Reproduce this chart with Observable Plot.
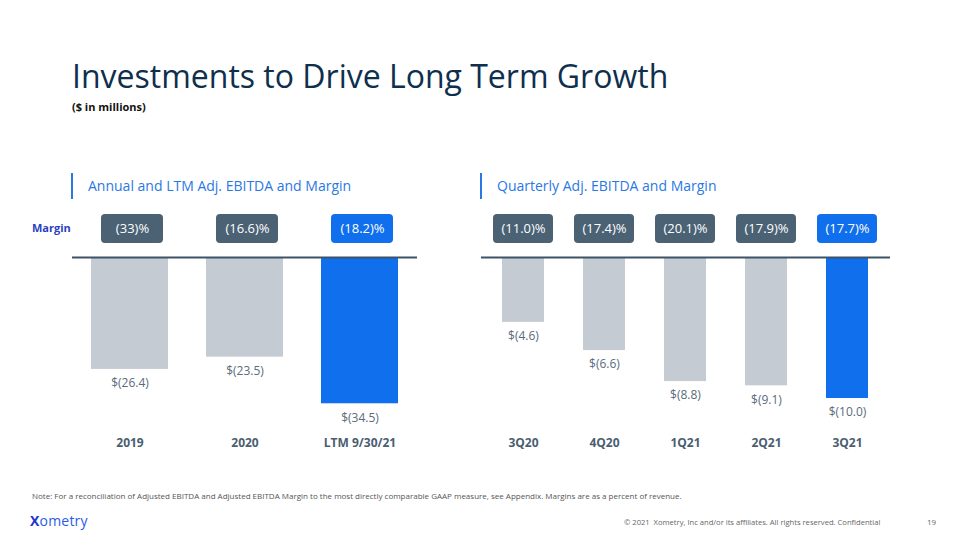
<!DOCTYPE html>
<html>
<head>
<meta charset="utf-8">
<script src="https://cdn.jsdelivr.net/npm/d3@7"></script>
<script src="https://cdn.jsdelivr.net/npm/@observablehq/plot@0.6"></script>
<style>
  html, body { margin: 0; padding: 0; background: #fff; }
  #page { position: relative; width: 960px; height: 540px; overflow: hidden; font-family: "Open Sans", sans-serif; }
  .abs { position: absolute; white-space: nowrap; line-height: 1; }
  #title { left: 72px; top: 60px; font-size: 32px; color: #0e2f4e; }
  #sub { left: 72px; top: 101px; font-size: 11px; font-weight: bold; color: #111; }
  .hdr { top: 179px; font-size: 14px; color: #2a78e4; }
  .hbar { position: absolute; top: 173px; width: 2px; height: 26px; background: #2a78e4; }
  #marginLbl { left: 32px; top: 222px; font-size: 11px; font-weight: bold; color: #2b3fbf; }
  #note { left: 32px; top: 492px; font-size: 8px; color: #555; }
  #logo { left: 30px; top: 514px; font-size: 14px; color: #2b5ce6; letter-spacing: 0.2px; }
  #logo b { color: #2233cc; }
  #copy { left: 624px; top: 519px; font-size: 7.6px; color: #666; }
  #pg { left: 927px; top: 518px; font-size: 8px; color: #666; }
  .plot { position: absolute; top: 200px; }
</style>
</head>
<body>
<div id="page">
  <div id="title" class="abs">Investments to Drive Long Term Growth</div>
  <div id="sub" class="abs">($ in millions)</div>
  <div class="hbar" style="left:71px"></div>
  <div class="abs hdr" style="left:88px">Annual and LTM Adj. EBITDA and Margin</div>
  <div class="hbar" style="left:480px"></div>
  <div class="abs hdr" style="left:497px">Quarterly Adj. EBITDA and Margin</div>
  <div id="marginLbl" class="abs">Margin</div>
  <div id="note" class="abs">Note: For a reconciliation of Adjusted EBITDA and Adjusted EBITDA Margin to the most directly comparable GAAP measure, see Appendix. Margins are as a percent of revenue.</div>
  <div id="logo" class="abs"><b>X</b>ometry</div>
  <div id="copy" class="abs">© 2021&nbsp; Xometry, Inc and/or its affiliates. All rights reserved. Confidential</div>
  <div id="pg" class="abs">19</div>
  <div id="left" class="plot" style="left:0px"></div>
  <div id="right" class="plot" style="left:470px"></div>
</div>
<script>
// ---- data ----
const annualCategories = ["2019", "2020", "LTM 9/30/21"];
const annualEbitda = [-26.4, -23.5, -34.5];
const annualMargins = ["(33)%", "(16.6)%", "(18.2)%"];

const quarterCategories = ["3Q20", "4Q20", "1Q21", "2Q21", "3Q21"];
const quarterEbitda = [-4.6, -6.6, -8.8, -9.1, -10.0];
const quarterMargins = ["(11.0)%", "(17.4)%", "(20.1)%", "(17.9)%", "(17.7)%"];

// ---- style ----
const GRAY = "#c5cbd2", BLUE = "#0f6fec", BOX = "#4a6274", LINE = "#3d5366";
const VAL = "#5b6b7b", CAT = "#4a5e70";

function panel(cats, vals, margins, opt) {
  const n = cats.length;
  const rows = cats.map((c, i) => ({cat: c, v: vals[i], m: margins[i], hi: i === n - 1}));
  const H = 270, top = 57;
  const k = opt.k; // pixels per $M
  const yMin = -(H - top) / k;
  const fmt = v => `$(${Math.abs(v).toFixed(1)})`;
  return Plot.plot({
    width: opt.width, height: H,
    marginLeft: opt.ml, marginRight: opt.mr, marginTop: top, marginBottom: 0,
    style: {fontFamily: "Open Sans, sans-serif", overflow: "visible"},
    x: {domain: cats, paddingInner: opt.pi, paddingOuter: opt.pi / 2, axis: null},
    y: {domain: [yMin, 0], axis: null},
    marks: [
      Plot.barY(rows, {x: "cat", y1: 0, y2: "v", fill: d => d.hi ? BLUE : GRAY}),
      Plot.ruleY([0], {stroke: LINE, strokeWidth: 2}),
      Plot.barY(rows, {x: "cat", y1: 14 / k, y2: 43 / k, fill: d => d.hi ? BLUE : BOX,
        rx: 4, insetLeft: opt.boxInsetL, insetRight: opt.boxInsetR}),
      Plot.text(rows, {x: "cat", y: 28.5 / k, text: "m", fill: "white", fontSize: 13,
        dx: (opt.boxInsetL - opt.boxInsetR) / 2}),
      Plot.text(rows, {x: "cat", y: "v", text: d => fmt(d.v), dy: 14, fill: VAL, fontSize: 12}),
      Plot.text(rows, {x: "cat", frameAnchor: "bottom", dy: -24, text: "cat", fill: CAT,
        fontSize: 12, fontWeight: "bold"})
    ]
  });
}

document.getElementById("left").append(panel(annualCategories, annualEbitda, annualMargins,
  {width: 470, ml: 72, mr: 53, pi: 0.33, k: 4.24, boxInsetL: 10, boxInsetR: 5}));
document.getElementById("right").append(panel(quarterCategories, quarterEbitda, quarterMargins,
  {width: 490, ml: 11, mr: 70, pi: 0.476, k: 14.1, boxInsetL: -9, boxInsetR: -9}));
</script>
</body>
</html>
